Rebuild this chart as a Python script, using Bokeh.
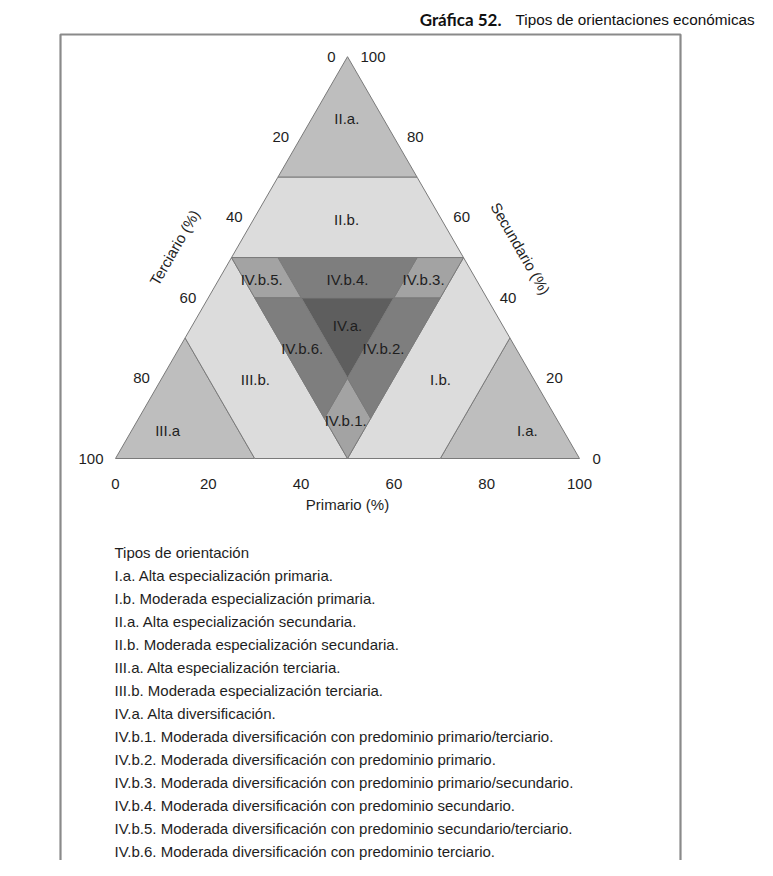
import math
from bokeh.plotting import figure
from bokeh.models import Range1d, ColumnDataSource
from bokeh.embed import file_html
from bokeh.resources import INLINE
from bokeh.core.properties import value

# ---------------- data ----------------
title_bold = "Gráfica 52."
title_text = "Tipos de orientaciones económicas"

region_names = ["I.a.", "I.b.", "II.a.", "II.b.", "III.a", "III.b.",
                "IV.a.", "IV.b.1.", "IV.b.2.", "IV.b.3.", "IV.b.4.", "IV.b.5.", "IV.b.6."]
# polygon vertices as (primario %, secundario %) ; terciario = 100 - P - S
region_vertices = [
    [(70, 0), (100, 0), (70, 30)],
    [(50, 0), (70, 0), (70, 30), (50, 50)],
    [(0, 70), (30, 70), (0, 100)],
    [(0, 50), (50, 50), (30, 70), (0, 70)],
    [(0, 0), (30, 0), (0, 30)],
    [(30, 0), (50, 0), (0, 50), (0, 30)],
    [(20, 40), (40, 40), (40, 20)],
    [(40, 20), (50, 10), (50, 0), (40, 10)],
    [(40, 20), (40, 40), (50, 40), (50, 10)],
    [(40, 40), (50, 40), (50, 50), (40, 50)],
    [(20, 40), (40, 40), (40, 50), (10, 50)],
    [(10, 40), (20, 40), (10, 50), (0, 50)],
    [(20, 40), (10, 40), (40, 10), (40, 20)],
]
region_colors = ["#bebebe", "#dcdcdc", "#bebebe", "#dcdcdc", "#bebebe", "#dcdcdc",
                 "#5e5e5e", "#a3a3a3", "#7e7e7e", "#a3a3a3", "#7e7e7e", "#a3a3a3", "#7e7e7e"]
# label positions (primario %, secundario %)
label_primario = [85.3, 60.2, 7.5, 20.0, 7.8, 20.3, 33.5, 44.9, 44.1, 44.1, 27.7, 9.2, 26.6]
label_secundario = [6.9, 19.7, 84.7, 59.6, 6.9, 19.7, 33.0, 9.4, 27.3, 44.6, 44.6, 44.6, 27.3]

tick_values = [0, 20, 40, 60, 80, 100]
tick_labels = ["0", "20", "40", "60", "80", "100"]

axis_titles = ["Primario (%)", "Terciario (%)", "Secundario (%)"]

legend_title = "Tipos de orientación"
legend_items = [
    "I.a. Alta especialización primaria.",
    "I.b. Moderada especialización primaria.",
    "II.a. Alta especialización secundaria.",
    "II.b. Moderada especialización secundaria.",
    "III.a. Alta especialización terciaria.",
    "III.b. Moderada especialización terciaria.",
    "IV.a. Alta diversificación.",
    "IV.b.1. Moderada diversificación con predominio primario/terciario.",
    "IV.b.2. Moderada diversificación con predominio primario.",
    "IV.b.3. Moderada diversificación con predominio primario/secundario.",
    "IV.b.4. Moderada diversificación con predominio secundario.",
    "IV.b.5. Moderada diversificación con predominio secundario/terciario.",
    "IV.b.6. Moderada diversificación con predominio terciario.",
]

# ---------------- layout ----------------
W, H = 757, 860
K = 4.64            # pixels per ternary unit
OX, OY = 115, 458   # pixel of the P=0,S=0 corner
R3 = math.sqrt(3) / 2


def tern(P, S):
    return P + S / 2.0, S * R3


def px2x(px):
    return (px - OX) / K


def py2y(py):
    return (OY - py) / K


p = figure(width=W, height=H, output_backend="svg", toolbar_location=None,
           x_range=Range1d(px2x(0), px2x(W)), y_range=Range1d(py2y(H), py2y(0)),
           x_axis_location=None, y_axis_location=None, min_border=0)
p.grid.visible = False
p.outline_line_color = None
p.background_fill_color = "white"
p.border_fill_color = "white"

FONT = value("Liberation Sans")
TXT = "#1e1e1e"

# frame box
bx0, bx1, by0, by1 = 60, 680, 34, H
p.line([px2x(bx0), px2x(bx0), px2x(bx1), px2x(bx1)],
       [py2y(by1), py2y(by0), py2y(by0), py2y(by1)],
       line_color="#8a8a8a", line_width=2.2)

# regions
xs, ys = [], []
for verts in region_vertices:
    pts = [tern(a, b) for a, b in verts]
    xs.append([q[0] for q in pts])
    ys.append([q[1] for q in pts])
src = ColumnDataSource(dict(xs=xs, ys=ys, c=region_colors))
p.patches("xs", "ys", source=src, fill_color="c", line_color="#7a7a7a", line_width=1)

# region labels
lx, ly = zip(*[tern(a, b) for a, b in zip(label_primario, label_secundario)])
p.text(list(lx), list(ly), text=region_names, text_font=FONT, text_font_size="15px",
       text_align="center", text_baseline="middle", text_color=TXT)

# tick labels: bottom (primario)
bx = [tern(v, 0)[0] for v in tick_values]
by = [tern(v, 0)[1] - 25 / K for v in tick_values]
p.text(bx, by, text=tick_labels, text_font=FONT, text_font_size="15px",
       text_align="center", text_baseline="middle", text_color=TXT)
# left (terciario): T = v on the edge P = 0
lxs = [tern(0, 100 - v)[0] - 12 / K for v in tick_values]
lys = [tern(0, 100 - v)[1] for v in tick_values]
p.text(lxs, lys, text=tick_labels, text_font=FONT, text_font_size="15px",
       text_align="right", text_baseline="middle", text_color=TXT)
# right (secundario): S = v on the edge T = 0
rxs = [tern(100 - v, v)[0] + 13 / K for v in tick_values]
rys = [tern(100 - v, v)[1] for v in tick_values]
p.text(rxs, rys, text=tick_labels, text_font=FONT, text_font_size="15px",
       text_align="left", text_baseline="middle", text_color=TXT)

# axis titles
p.text([px2x(347)], [py2y(504)], text=[axis_titles[0]], text_font=FONT, text_font_size="15px",
       text_align="center", text_baseline="middle", text_color=TXT)
p.text([px2x(174)], [py2y(247)], text=[axis_titles[1]], text_font=FONT, text_font_size="15px",
       text_align="center", text_baseline="middle", text_color=TXT, angle=math.pi / 3)
p.text([px2x(520)], [py2y(248)], text=[axis_titles[2]], text_font=FONT, text_font_size="15px",
       text_align="center", text_baseline="middle", text_color=TXT, angle=-math.pi / 3)

# chart title
p.text([px2x(501)], [py2y(19)], text=[title_bold], text_font=value("Lato"), text_font_style="bold",
       text_font_size="17px", text_align="right", text_baseline="alphabetic", text_color="#111111")
p.text([px2x(515)], [py2y(19)], text=[title_text], text_font=FONT,
       text_font_size="15.3px", text_align="left", text_baseline="alphabetic", text_color="#111111")

# legend text block
leg_lines = [legend_title] + legend_items
leg_y = [py2y(552)] + [py2y(574.5 + 23.05 * i) for i in range(len(legend_items))]
p.text([px2x(114)] * len(leg_lines), leg_y, text=leg_lines, text_font=FONT, text_font_size="15px",
       text_align="left", text_baseline="middle", text_color=TXT)

open("out.html", "w").write(file_html(p, INLINE))
